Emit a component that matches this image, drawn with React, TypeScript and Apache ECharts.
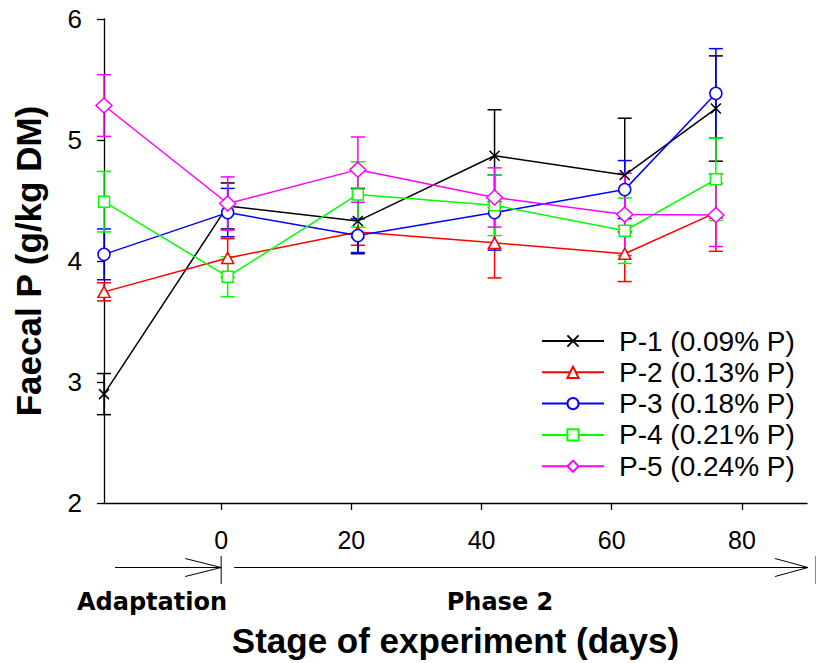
import React, { useEffect, useRef } from "react";
import * as echarts from "echarts";

// ---- data ----
const days = [-18, 1, 21, 42, 62, 76];
const seriesNames = [
  "P-1 (0.09% P)",
  "P-2 (0.13% P)",
  "P-3 (0.18% P)",
  "P-4 (0.21% P)",
  "P-5 (0.24% P)",
];
const p1Mean = [2.9, 4.455, 4.33, 4.87, 4.71, 5.26];
const p1Err = [0.17, 0.19, 0.27, 0.38, 0.47, 0.435];
const p2Mean = [3.745, 4.025, 4.24, 4.15, 4.06, 4.4];
const p2Err = [0.075, 0.16, 0.11, 0.29, 0.23, 0.32];
const p3Mean = [4.055, 4.4, 4.21, 4.4, 4.59, 5.385];
const p3Err = [0.21, 0.2, 0.14, 0.31, 0.24, 0.37];
const p4Mean = [4.49, 3.87, 4.55, 4.46, 4.25, 4.675];
const p4Err = [0.25, 0.165, 0.27, 0.25, 0.27, 0.34];
const p5Mean = [5.285, 4.475, 4.755, 4.525, 4.385, 4.38];
const p5Err = [0.255, 0.22, 0.27, 0.245, 0.34, 0.26];
const xTickValues = [0, 20, 40, 60, 80];
const stageLabels = ["Adaptation", "Phase 2"];

const means = [p1Mean, p2Mean, p3Mean, p4Mean, p5Mean];
const errs = [p1Err, p2Err, p3Err, p4Err, p5Err];
const colors = ["#000000", "#ff0000", "#0000ff", "#00ff00", "#ff00ff"];
const symbols = [
  "path://M0,0L10,10M10,0L0,10",
  "triangle",
  "circle",
  "rect",
  "diamond",
];
const symbolSizes: any[] = [10, [12, 11], 12, 11, [16, 15]];

export default function App() {
  const ref = useRef<HTMLDivElement>(null);
  useEffect(() => {
    if (!ref.current) return;
    const chart = echarts.init(ref.current, null, { renderer: "svg" });
    const series: any[] = [];
    means.forEach((m, i) => {
      const color = colors[i];
      series.push({
        type: "custom",
        name: seriesNames[i] + " SE",
        data: days.map((d, k) => [d, m[k] - errs[i][k], m[k] + errs[i][k]]),
        encode: { x: 0, y: [1, 2] },
        renderItem: (params: any, api: any) => {
          const x = api.value(0);
          const lo = api.coord([x, api.value(1)]);
          const hi = api.coord([x, api.value(2)]);
          const w = 7;
          const st = { stroke: color, lineWidth: 1.5 };
          return {
            type: "group",
            children: [
              { type: "line", shape: { x1: lo[0], y1: lo[1], x2: hi[0], y2: hi[1] }, style: st },
              { type: "line", shape: { x1: lo[0] - w, y1: lo[1], x2: lo[0] + w, y2: lo[1] }, style: st },
              { type: "line", shape: { x1: hi[0] - w, y1: hi[1], x2: hi[0] + w, y2: hi[1] }, style: st },
            ],
          };
        },
      });
      series.push({
        type: "line",
        name: seriesNames[i],
        data: days.map((d, k) => [d, m[k]]),
        symbol: symbols[i],
        symbolSize: symbolSizes[i],
        symbolKeepAspect: true,
        showAllSymbol: true,
        lineStyle: { color, width: 1.5 },
        itemStyle: { color: "#ffffff", borderColor: color, borderWidth: 1.5 },
        emphasis: { disabled: true },
      });
    });

    const option: any = {
      animation: false,
      backgroundColor: "#ffffff",
      grid: { left: 104, right: 9, top: 19, bottom: 158, containLabel: false },
      xAxis: {
        type: "value",
        min: -18,
        max: 90,
        name: "Stage of experiment (days)",
        nameLocation: "middle",
        nameGap: 120,
        nameTextStyle: {
          fontFamily: "Liberation Sans, Arial, sans-serif",
          fontWeight: "bold",
          fontSize: 35,
          color: "#000",
        },
        axisLine: { show: true, onZero: false, lineStyle: { color: "#000", width: 1.3 } },
        axisTick: {
          show: true,
          length: 7,
          customValues: xTickValues,
          lineStyle: { color: "#000", width: 1.3 },
        },
        axisLabel: {
          customValues: xTickValues,
          margin: 24,
          fontFamily: "Liberation Sans, Arial, sans-serif",
          fontSize: 25,
          color: "#000",
        },
        splitLine: { show: false },
      },
      yAxis: {
        type: "value",
        min: 2,
        max: 6,
        interval: 1,
        name: "Faecal P (g/kg DM)",
        nameLocation: "middle",
        nameGap: 58,
        nameTextStyle: {
          fontFamily: "Liberation Sans, Arial, sans-serif",
          fontWeight: "bold",
          fontSize: 35,
          color: "#000",
        },
        axisLine: { show: true, onZero: false, lineStyle: { color: "#000", width: 1.3 } },
        axisTick: { show: true, length: 7, lineStyle: { color: "#000", width: 1.3 } },
        axisLabel: {
          margin: 22,
          fontFamily: "Liberation Sans, Arial, sans-serif",
          fontSize: 26,
          color: "#000",
        },
        splitLine: { show: false },
      },
      legend: {
        data: seriesNames,
        orient: "vertical",
        left: 541,
        top: 327,
        padding: 0,
        itemWidth: 62,
        itemHeight: 14,
        itemGap: 3.3,
        selectedMode: false,
        textStyle: {
          fontFamily: "Liberation Sans, Arial, sans-serif",
          fontSize: 28,
          lineHeight: 28,
          color: "#000",
          padding: [0, 0, 0, 10],
        },
      },
      series,
    };
    chart.setOption(option);

    const x0 = chart.convertToPixel({ xAxisIndex: 0 }, 0) as number;
    const yArrow = 567.5;
    const ls = { stroke: "#000", lineWidth: 1 };
    chart.setOption({
      graphic: [
        { type: "line", shape: { x1: 115, y1: yArrow, x2: x0, y2: yArrow }, style: ls },
        { type: "polyline", shape: { points: [[x0 - 36, yArrow - 9], [x0, yArrow], [x0 - 36, yArrow + 9]] }, style: { ...ls, fill: null } },
        { type: "line", shape: { x1: x0, y1: 556, x2: x0, y2: 584 }, style: ls },
        { type: "line", shape: { x1: x0 + 13, y1: yArrow, x2: 808, y2: yArrow }, style: ls },
        { type: "polyline", shape: { points: [[775, yArrow - 9], [808, yArrow], [775, yArrow + 9]] }, style: { ...ls, fill: null } },
        { type: "line", shape: { x1: 815.5, y1: 556, x2: 815.5, y2: 584 }, style: { stroke: "#888", lineWidth: 1 } },
        {
          type: "text",
          x: 152,
          y: 602,
          style: {
            text: stageLabels[0],
            fontFamily: "DejaVu Sans, Verdana, sans-serif",
            fontWeight: "bold",
            fontSize: 24,
            fill: "#000",
            align: "center",
            verticalAlign: "middle",
          },
        },
        {
          type: "text",
          x: 500,
          y: 602,
          style: {
            text: stageLabels[1],
            fontFamily: "DejaVu Sans, Verdana, sans-serif",
            fontWeight: "bold",
            fontSize: 24,
            fill: "#000",
            align: "center",
            verticalAlign: "middle",
          },
        },
      ],
    });

    return () => chart.dispose();
  }, []);
  return (
    <div
      ref={ref}
      style={{ position: "fixed", left: 0, top: 0, width: 816, height: 663, background: "#fff" }}
    />
  );
}
